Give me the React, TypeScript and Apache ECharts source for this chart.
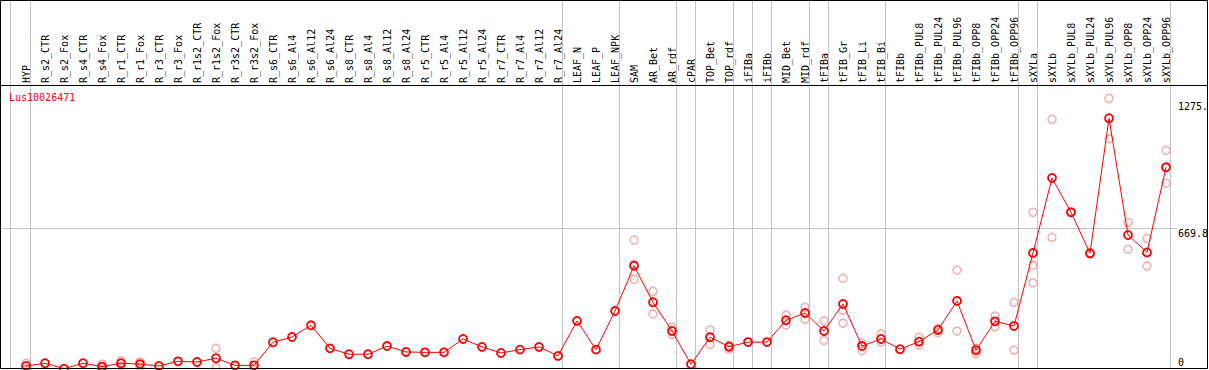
import React, { useEffect, useRef } from "react";
import * as echarts from "echarts";

const categories = [
  "HYP", "R_s2_CTR", "R_s2_Fox", "R_s4_CTR", "R_s4_Fox", "R_r1_CTR", "R_r1_Fox", "R_r3_CTR", "R_r3_Fox",
  "R_r1s2_CTR", "R_r1s2_Fox", "R_r3s2_CTR", "R_r3s2_Fox", "R_s6_CTR", "R_s6_Al4", "R_s6_Al12", "R_s6_Al24",
  "R_s8_CTR", "R_s8_Al4", "R_s8_Al12", "R_s8_Al24", "R_r5_CTR", "R_r5_Al4", "R_r5_Al12", "R_r5_Al24",
  "R_r7_CTR", "R_r7_Al4", "R_r7_Al12", "R_r7_Al24", "LEAF_N", "LEAF_P", "LEAF_NPK", "SAM", "AR_Bet", "AR_rdf",
  "cPAR", "TOP_Bet", "TOP_rdf", "iFIBa", "iFIBb", "MID_Bet", "MID_rdf", "tFIBa", "tFIB_Gr", "tFIB_Li", "tFIB_Bi",
  "tFIBb", "tFIBb_PUL8", "tFIBb_PUL24", "tFIBb_PUL96", "tFIBb_OPP8", "tFIBb_OPP24", "tFIBb_OPP96",
  "sXYLa", "sXYLb", "sXYLb_PUL8", "sXYLb_PUL24", "sXYLb_PUL96", "sXYLb_OPP8", "sXYLb_OPP24", "sXYLb_OPP96",
];

const meanValues = [
  13, 26, 0, 26, 10, 26, 22, 13, 35, 32, 50, 16, 16, 126, 151, 207, 97, 69, 69, 108, 80, 78, 78, 142, 104,
  75, 91, 104, 61, 228, 91, 275, 491, 317, 180, 21, 150, 105, 127, 127, 231, 266, 180, 309, 108, 142,
  93, 129, 185, 323, 88, 226, 204, 552, 910, 746, 551, 1195, 638, 555, 961,
];

const rep1 = [
  26, null, null, null, 22, 38, 33, null, null, null, 97, null, 32, null, null, null, null, null, null, null, null, null, null, null, null,
  null, null, null, null, null, null, null, 614, 369, 198, null, 185, 113, null, null, 256, 293, 228, 431, 121, 166,
  null, 150, 193, 471, 97, 251, 317, 746, 1190, 746, 551, 1290, 698, 622, 1042,
];

const rep2 = [
  0, null, null, null, 0, 13, 11, null, null, null, 5, null, 0, null, null, null, null, null, null, null, null, null, null, null, null,
  null, null, null, null, null, null, null, 427, 261, 164, null, 116, 93, null, null, 208, 236, 135, 217, 86, 127,
  null, 113, 172, 180, 73, 200, 89, 410, 627, 750, 547, 1097, 570, 490, 885,
];

const rep3 = [
  null, null, null, null, null, null, null, null, null, null, null, null, null, null, null, null, null, null, null, null, null, null, null, null, null,
  null, null, null, null, null, null, null, 498, null, null, null, null, null, null, null, null, null, null, 279, null, null,
  null, null, null, null, null, null, null, 493, null, null, null, null, null, null, null,
];

const geneName = "Lus10026471";
const tickValues = [1275, 669.8, 0];
const tickLabels = ["1275.", "669.8", "0"];
const groupEnds = [0, 28, 31, 34, 35, 37, 38, 39, 41, 42, 45, 52, 53, 60];

const MONO = "'DejaVu Sans Mono', monospace";
const W = 1209;
const H = 370;

export default function App() {
  const ref = useRef<HTMLDivElement>(null);

  useEffect(() => {
    if (!ref.current) return;
    const chart = echarts.init(ref.current, null, { renderer: "svg", width: W, height: H });

    const repStyle = {
      type: "scatter",
      symbol: "circle",
      symbolSize: 8,
      itemStyle: { color: "rgba(0,0,0,0)", borderColor: "#f09a9a", borderWidth: 1.5 },
      silent: true,
      z: 2,
    };

    chart.setOption({
      animation: false,
      backgroundColor: "#ffffff",
      grid: { left: 16.5, width: 1159, top: 86, height: 282.7 },
      xAxis: {
        type: "category",
        data: categories,
        position: "top",
        boundaryGap: true,
        axisLine: { show: false },
        axisTick: { show: false },
        splitLine: { show: false },
        axisLabel: {
          rotate: 90,
          interval: 0,
          margin: 3,
          fontFamily: MONO,
          fontSize: 10,
          color: "#000",
        },
      },
      yAxis: {
        type: "value",
        min: 0,
        max: 1349,
        show: false,
        splitLine: { show: false },
      },
      series: [
        { ...repStyle, data: rep1 },
        { ...repStyle, data: rep2 },
        { ...repStyle, data: rep3 },
        {
          type: "line",
          data: meanValues,
          symbol: "circle",
          symbolSize: 8,
          showAllSymbol: true,
          lineStyle: { color: "#ff0000", width: 1 },
          itemStyle: { color: "rgba(0,0,0,0)", borderColor: "#ff0000", borderWidth: 1.8 },
          z: 3,
        },
      ],
    });

    const px = (i: number) => chart.convertToPixel({ xAxisIndex: 0 }, categories[i]) as number;
    const py = (v: number) => chart.convertToPixel({ yAxisIndex: 0 }, v) as number;
    const step = px(1) - px(0);

    const graphics: any[] = [];
    // group separators
    const sepXs = [px(0) - step * 0.8, ...groupEnds.map((i) => px(i) + step * 0.25)];
    sepXs.forEach((x) => {
      const xx = Math.floor(x) + 0.5;
      graphics.push({
        type: "line",
        shape: { x1: xx, y1: 0, x2: xx, y2: 369 },
        style: { stroke: "#c4c4c4", lineWidth: 1 },
        z: 1,
      });
    });
    // horizontal reference line
    const yMid = Math.floor(py(tickValues[1])) + 0.5;
    graphics.push({
      type: "line",
      shape: { x1: 0, y1: yMid, x2: 1177, y2: yMid },
      style: { stroke: "#c4c4c4", lineWidth: 1 },
      z: 1,
    });
    // frame
    graphics.push({
      type: "rect",
      shape: { x: 0.5, y: 0.5, width: 1207, height: 368 },
      style: { fill: "none", stroke: "#000", lineWidth: 1 },
      z: 10,
    });
    graphics.push({
      type: "line",
      shape: { x1: 0, y1: 85.5, x2: 1208, y2: 85.5 },
      style: { stroke: "#000", lineWidth: 1 },
      z: 10,
    });
    // gene name
    graphics.push({
      type: "text",
      x: 9,
      y: 92,
      style: { text: geneName, fill: "#ff0000", font: `10px ${MONO}`, textVerticalAlign: "top" },
      z: 10,
    });
    // right value labels
    tickValues.forEach((v, k) => {
      const isBottom = v === 0;
      graphics.push({
        type: "text",
        x: 1178,
        y: isBottom ? 367 : Math.floor(py(v)),
        style: {
          text: tickLabels[k],
          fill: "#000",
          font: `10px ${MONO}`,
          textVerticalAlign: isBottom ? "bottom" : "top",
        },
        z: 10,
      });
    });

    chart.setOption({ graphic: graphics });

    return () => chart.dispose();
  }, []);

  return (
    <div
      ref={ref}
      style={{ position: "fixed", left: 0, top: 0, width: W, height: H, background: "#fff" }}
    />
  );
}
